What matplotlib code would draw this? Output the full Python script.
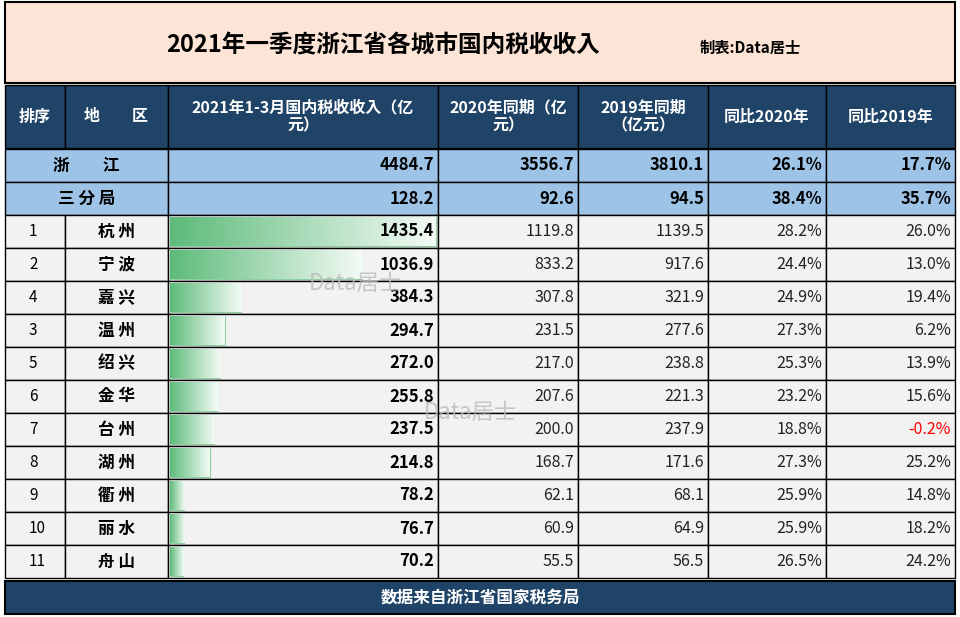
import matplotlib
matplotlib.use("Agg")
import matplotlib.pyplot as plt
import numpy as np
from matplotlib import font_manager
from matplotlib.patches import Rectangle

_cjk = [f for f in font_manager.fontManager.ttflist if "CJK" in f.name]
_sc = [f for f in _cjk if "SC" in f.name] or _cjk
if _sc:
    font_manager.fontManager.addfont(_sc[0].fname)
    plt.rcParams["font.family"] = [_sc[0].name, "DejaVu Sans"]
else:
    import glob
    for p in glob.glob("/usr/share/fonts/**/*CJK*", recursive=True):
        font_manager.fontManager.addfont(p)
    plt.rcParams["font.family"] = ["Noto Sans CJK SC", "DejaVu Sans"]

title = "2021年一季度浙江省各城市国内税收收入"
maker = "制表:Data居士"
source = "数据来自浙江省国家税务局"
headers = ["排序", "地　　区", "2021年1-3月国内税收收入（亿\n元）", "2020年同期（亿\n元）",
           "2019年同期\n（亿元）", "同比2020年", "同比2019年"]

total_names = ["浙　　江", "三 分 局"]
total_2021 = [4484.7, 128.2]
total_2020 = [3556.7, 92.6]
total_2019 = [3810.1, 94.5]
total_yoy20 = [26.1, 38.4]
total_yoy19 = [17.7, 35.7]

ranks = [1, 2, 4, 3, 5, 6, 7, 8, 9, 10, 11]
cities = ["杭 州", "宁 波", "嘉 兴", "温 州", "绍 兴", "金 华", "台 州", "湖 州", "衢 州", "丽 水", "舟 山"]
tax_2021 = [1435.4, 1036.9, 384.3, 294.7, 272.0, 255.8, 237.5, 214.8, 78.2, 76.7, 70.2]
tax_2020 = [1119.8, 833.2, 307.8, 231.5, 217.0, 207.6, 200.0, 168.7, 62.1, 60.9, 55.5]
tax_2019 = [1139.5, 917.6, 321.9, 277.6, 238.8, 221.3, 237.9, 171.6, 68.1, 64.9, 56.5]
yoy_2020 = [28.2, 24.4, 24.9, 27.3, 25.3, 23.2, 18.8, 27.3, 25.9, 25.9, 26.5]
yoy_2019 = [26.0, 13.0, 19.4, 6.2, 13.9, 15.6, -0.2, 25.2, 14.8, 18.2, 24.2]

W, H = 960, 617
NAVY = "#1F4467"
LBLUE = "#9DC3E6"
cols = [5, 65, 168, 438, 578, 708, 826, 955]

fig = plt.figure(figsize=(W / 100, H / 100), dpi=100)
ax = fig.add_axes([0, 0, 1, 1])
ax.set_xlim(0, W)
ax.set_ylim(H, 0)
ax.axis("off")


def cell(x0, x1, y0, y1, fc, lw=1.0):
    ax.add_patch(Rectangle((x0, y0), x1 - x0, y1 - y0, fc=fc, ec="black", lw=lw))


# title band
cell(5, 955, 2, 83, "#FCE4D6", 1.5)
ax.text(383, 45, title, ha="center", va="center", fontsize=17, weight="bold")
ax.text(750, 48, maker, ha="center", va="center", fontsize=11, weight="bold")

# header
hy0, hy1 = 85, 148
for i, h in enumerate(headers):
    cell(cols[i], cols[i + 1], hy0, hy1, NAVY)
    ax.text((cols[i] + cols[i + 1]) / 2, (hy0 + hy1) / 2, h, ha="center", va="center",
            color="white", fontsize=11.5, weight="bold", linespacing=1.15)

# totals
ty = [149, 182, 215]
for k in range(2):
    y0, y1 = ty[k], ty[k + 1]
    cell(cols[0], cols[2], y0, y1, LBLUE)
    ax.text((cols[0] + cols[2]) / 2, (y0 + y1) / 2, total_names[k], ha="center", va="center",
            fontsize=12, weight="bold")
    vals = [f"{total_2021[k]:.1f}", f"{total_2020[k]:.1f}", f"{total_2019[k]:.1f}",
            f"{total_yoy20[k]:.1f}%", f"{total_yoy19[k]:.1f}%"]
    for j, v in enumerate(vals):
        c0, c1 = cols[2 + j], cols[3 + j]
        cell(c0, c1, y0, y1, LBLUE)
        ax.text(c1 - 4, (y0 + y1) / 2, v, ha="right", va="center", fontsize=12, weight="bold")

# city rows
rh = 33
grad = np.linspace(0, 1, 256).reshape(1, -1)
cmap = matplotlib.colors.LinearSegmentedColormap.from_list("g", ["#5DBB7A", "#F4FBF6"])
bar_max = cols[3] - cols[2] - 4
for i in range(len(cities)):
    y0 = 215 + i * rh
    y1 = y0 + rh
    cy = (y0 + y1) / 2
    for j in range(7):
        cell(cols[j], cols[j + 1], y0, y1, "#F2F2F2")
    ax.text(cols[0] + 24, cy, str(ranks[i]), ha="left", va="center", fontsize=11)
    ax.text((cols[1] + cols[2]) / 2, cy, cities[i], ha="center", va="center", fontsize=12, weight="bold")
    bw = tax_2021[i] / max(tax_2021) * bar_max
    bar = ax.barh(cy, bw, height=rh - 4, left=cols[2] + 2, color="none", ec="#8FD0A0", lw=0.8)[0]
    im = ax.imshow(grad, cmap=cmap, extent=[cols[2] + 2, cols[2] + 2 + bw, y1 - 2, y0 + 2],
                   aspect="auto", zorder=2)
    im.set_clip_path(bar)
    ax.text(cols[3] - 4, cy, f"{tax_2021[i]:.1f}", ha="right", va="center", fontsize=12,
            weight="bold", zorder=3)
    others = [f"{tax_2020[i]:.1f}", f"{tax_2019[i]:.1f}", f"{yoy_2020[i]:.1f}%", f"{yoy_2019[i]:.1f}%"]
    for j, v in enumerate(others):
        color = "red" if v.startswith("-") else "#222222"
        ax.text(cols[4 + j] - 4, cy, v, ha="right", va="center", fontsize=11.5, color=color)

# watermarks
ax.text(355, 283, "Data居士", fontsize=16, color="#BBBBBB", alpha=0.8, ha="center", va="center", zorder=4)
ax.text(470, 412, "Data居士", fontsize=16, color="#BBBBBB", alpha=0.8, ha="center", va="center", zorder=4)

# footer
cell(5, 955, 581, 614, NAVY, 1.5)
ax.text(480, 598, source, ha="center", va="center", color="white", fontsize=12, weight="bold")

fig.savefig("out.png", dpi=100)
